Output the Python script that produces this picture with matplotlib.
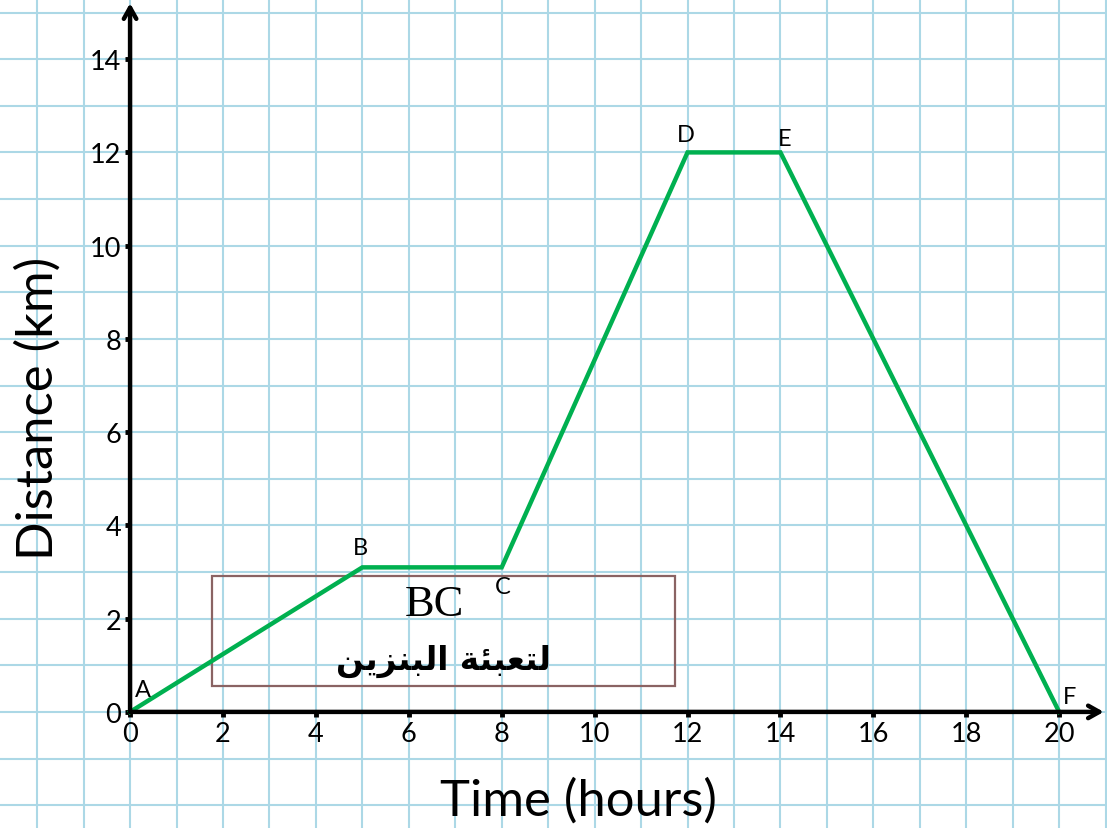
import matplotlib
matplotlib.use("Agg")
import matplotlib.pyplot as plt
from matplotlib.patches import Rectangle

# Data
times = [0, 5, 8, 12, 14, 20]
distances = [0, 3.1, 3.1, 12, 12, 0]
point_labels = ["A", "B", "C", "D", "E", "F"]
label_offsets = [(0.28, 0.49), (-0.05, 0.42), (0.03, -0.42), (-0.03, 0.39), (0.1, 0.29), (0.22, 0.32)]
x_ticks = list(range(0, 21, 2))
y_ticks = list(range(0, 15, 2))
xlabel = "Time (hours)"
ylabel = "Distance (km)"
box_title = "BC"
# Arabic "لتعبئة البنزين" in presentation forms, visual (left-to-right) order
box_text = "\uFEE6\uFEF3\uFEB0\uFEE8\uFE92\uFEDF\uFE8D \uFE94\uFE8C\uFE92\uFECC\uFE98\uFEDF"

W, H = 1107, 829
fig = plt.figure(figsize=(W / 100, H / 100), dpi=100)
ax = fig.add_axes([0, 0, 1, 1])
ax.set_xlim(-2.80, 21.03)
ax.set_ylim(-2.49, 15.29)

grid_color = "#acd8e6"
ax.set_xticks(range(-2, 22), minor=True)
ax.set_yticks(range(-2, 16), minor=True)
ax.set_xticks(x_ticks)
ax.set_yticks(y_ticks)
ax.grid(which="both", color=grid_color, linewidth=1.5, zorder=0)
ax.set_axisbelow(True)

for s in ["top", "right"]:
    ax.spines[s].set_visible(False)
ax.spines["left"].set_position(("data", 0))
ax.spines["bottom"].set_position(("data", 0))
ax.spines["left"].set_color("none")
ax.spines["bottom"].set_color("none")

tick_font = dict(family=["Lato", "DejaVu Sans"], size=19.5)
ax.set_xticklabels([str(v) for v in x_ticks], **tick_font)
ax.set_yticklabels([str(v) for v in y_ticks], **tick_font)
ax.tick_params(which="major", direction="out", length=3.5, width=3.5, color="black", pad=3)
ax.tick_params(which="minor", length=0)

# axes with arrows
ax.annotate("", xy=(0, 15.2), xytext=(0, 0),
            arrowprops=dict(arrowstyle="->,head_length=0.8,head_width=0.45", lw=3.2, color="black",
                            shrinkA=0, shrinkB=0), zorder=5)
ax.annotate("", xy=(20.96, 0), xytext=(0, 0),
            arrowprops=dict(arrowstyle="->,head_length=0.8,head_width=0.45", lw=3.2, color="black",
                            shrinkA=0, shrinkB=0), zorder=5)

# box
rect = Rectangle((1.77, 0.56), 11.73 - 1.77, 2.92 - 0.56, fill=False,
                 edgecolor="#8a6363", linewidth=1.6, zorder=3)
ax.add_patch(rect)
ax.text(6.55, 2.32, box_title, family=["Liberation Serif", "DejaVu Serif"], size=32,
        ha="center", va="center", zorder=6)
ax.text(6.75, 1.1, box_text, family=["DejaVu Sans"], weight="bold", size=23.5,
        ha="center", va="center", zorder=6)

# line
ax.plot(times, distances, color="#00b050", linewidth=3.2, zorder=4, solid_joinstyle="miter")

for (t, d), lab, (dx, dy) in zip(zip(times, distances), point_labels, label_offsets):
    ax.text(t + dx, d + dy, lab, family=["Lato", "DejaVu Sans"], size=17,
            ha="center", va="center", zorder=6)

ax.text(38 / W, 1 - 408 / H, ylabel, transform=ax.transAxes, rotation=90,
        family=["Lato", "DejaVu Sans"], size=36.5, ha="center", va="center")
ax.text(578 / W, 1 - 801 / H, xlabel, transform=ax.transAxes,
        family=["Lato", "DejaVu Sans"], size=36.5, ha="center", va="center")

fig.savefig("out.png", dpi=100)
